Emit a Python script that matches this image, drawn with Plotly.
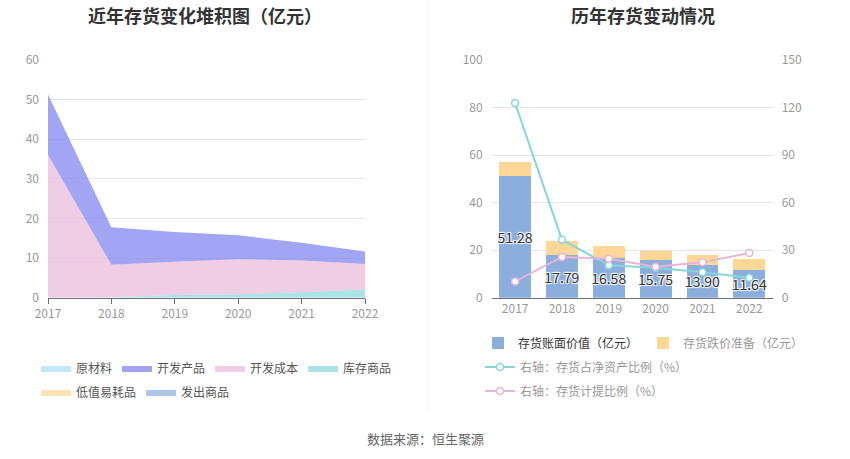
import plotly.graph_objects as go

W, H = 850, 459
FONT = "Noto Sans CJK SC"

years = ["2017", "2018", "2019", "2020", "2021", "2022"]
year_nums = [2017, 2018, 2019, 2020, 2021, 2022]

# Left chart: stacked inventory composition (亿元)
raw_material = [0, 0, 0, 0, 0, 0]              # 原材料
dev_products = [15.28, 9.49, 7.48, 6.05, 4.50, 3.14]  # 开发产品
dev_cost = [36.00, 8.20, 8.40, 8.80, 8.05, 6.40]      # 开发成本
stock_goods = [0, 0.10, 0.70, 0.90, 1.35, 2.10]       # 库存商品
low_value = [0, 0, 0, 0, 0, 0]                 # 低值易耗品
shipped_goods = [0, 0, 0, 0, 0, 0]             # 发出商品

# Right chart
book_value = [51.28, 17.79, 16.58, 15.75, 13.90, 11.64]   # 存货账面价值（亿元）
impairment = [5.90, 6.06, 5.30, 3.77, 3.90, 4.64]         # 存货跌价准备（亿元）
net_asset_ratio = [122.8, 36.6, 20.4, 18.9, 16.0, 12.6]   # 存货占净资产比例（%）
provision_ratio = [10.3, 25.7, 24.6, 19.6, 22.3, 28.2]    # 存货计提比例（%）
book_labels = ["51.28", "17.79", "16.58", "15.75", "13.90", "11.64"]

def px_x(p):
    return p / W

def px_y(p):
    return 1 - p / H

fig = go.Figure()

area_defs = [
    ("库存商品", stock_goods, "#88d8d8", "rgba(136,216,216,0.7)", "legend", 4),
    ("开发成本", dev_cost, "#e8b8d8", "rgba(232,184,216,0.7)", "legend", 3),
    ("开发产品", dev_products, "#7b7ff0", "rgba(123,127,240,0.7)", "legend", 2),
    ("原材料", raw_material, "#a8e0f8", "rgba(168,224,248,0.7)", "legend", 1),
    ("低值易耗品", low_value, "#fdd995", "rgba(253,217,149,0.7)", "legend2", 5),
    ("发出商品", shipped_goods, "#8caedc", "rgba(140,174,220,0.7)", "legend2", 6),
]
for name, vals, col, fcol, leg, rank in area_defs:
    fig.add_trace(go.Scatter(
        x=year_nums, y=vals, name=name, mode="lines", stackgroup="one",
        line=dict(width=0, color=col), fillcolor=fcol,
        xaxis="x", yaxis="y", legend=leg, legendrank=rank,
    ))

fig.add_trace(go.Bar(
    x=years, y=book_value, name="<span style='color:#333'>存货账面价值（亿元）</span>",
    marker=dict(color="#8caedc", line=dict(width=0)),
    text=book_labels, textposition="inside", insidetextanchor="middle",
    textangle=0, constraintext="none",
    textfont=dict(size=14, color="#333", family=FONT,
                  shadow="1px 1px 1px #fff, -1px -1px 1px #fff, 1px -1px 1px #fff, -1px 1px 1px #fff"),
    xaxis="x2", yaxis="y2", legend="legend3",
))
fig.add_trace(go.Bar(
    x=years, y=impairment, name="存货跌价准备（亿元）",
    marker=dict(color="#fed797", line=dict(width=0)),
    xaxis="x2", yaxis="y2", legend="legend3", hoverinfo="skip",
))
fig.add_trace(go.Scatter(
    x=years, y=net_asset_ratio, name="右轴：存货占净资产比例（%）",
    mode="lines+markers", line=dict(color="#86d6d6", width=2),
    marker=dict(symbol="circle", size=7, color="white", line=dict(color="#86d6d6", width=1.5)),
    xaxis="x2", yaxis="y3", legend="legend4",
))
fig.add_trace(go.Scatter(
    x=years, y=provision_ratio, name="右轴：存货计提比例（%）",
    mode="lines+markers", line=dict(color="#e8b4da", width=2),
    marker=dict(symbol="circle", size=7, color="white", line=dict(color="#e8b4da", width=1.5)),
    xaxis="x2", yaxis="y3", legend="legend5",
))

ydom = [px_y(297.7), px_y(60)]
tickfont = dict(family=FONT, size=12, color="#999")
grid = "#e0e6f1"

leg_common = dict(orientation="h", xanchor="left", yanchor="middle",
                  font=dict(family=FONT, size=12, color="#555"),
                  bgcolor="rgba(0,0,0,0)", itemwidth=30, traceorder="normal")
leg_gray = {**leg_common, "font": dict(family=FONT, size=12, color="#999")}

fig.update_layout(
    width=W, height=H, margin=dict(l=0, r=0, t=0, b=0, autoexpand=False),
    paper_bgcolor="white", plot_bgcolor="white",
    font=dict(family=FONT, color="#333"),
    barmode="stack", bargap=0.32,
    xaxis=dict(domain=[px_x(48), px_x(365)], range=[2017, 2022],
               tickvals=year_nums, ticktext=years, showgrid=False,
               showline=True, linecolor="#6e7079", linewidth=1,
               ticks="outside", ticklen=5, tickcolor="#6e7079",
               tickfont=tickfont, zeroline=False, automargin=False),
    yaxis=dict(domain=ydom, range=[0, 60], dtick=10, showgrid=True, gridcolor=grid,
               zeroline=False, showline=False, tickfont=tickfont,
               ticklabelstandoff=8, anchor="x", automargin=False),
    xaxis2=dict(domain=[px_x(491.7), px_x(772.7)], anchor="y2", showgrid=False,
                showline=True, linecolor="#6e7079", linewidth=1, ticks="",
                tickfont=tickfont, type="category", automargin=False),
    yaxis2=dict(domain=ydom, range=[0, 100], dtick=20, showgrid=True, gridcolor=grid,
                zeroline=False, showline=False, tickfont=tickfont,
                ticklabelstandoff=8, anchor="x2", automargin=False),
    yaxis3=dict(range=[0, 150], dtick=30, overlaying="y2", side="right",
                showgrid=False, zeroline=False, showline=False, tickfont=tickfont,
                ticklabelstandoff=8, anchor="x2", automargin=False),
    legend=dict(x=px_x(36), y=px_y(368), **leg_common),
    legend2=dict(x=px_x(36), y=px_y(392), **leg_common),
    legend3=dict(x=px_x(478), y=px_y(343), **leg_gray),
    legend4=dict(x=px_x(480), y=px_y(367), **leg_gray),
    legend5=dict(x=px_x(480), y=px_y(391), **leg_gray),
    shapes=[dict(type="line", xref="paper", yref="paper",
                 x0=px_x(428), x1=px_x(428), y0=px_y(0), y1=px_y(410),
                 line=dict(color="#eeeeee", width=1))],
    annotations=[
        dict(text="<b>近年存货变化堆积图（亿元）</b>", x=px_x(205), y=px_y(15),
             xref="paper", yref="paper", showarrow=False, xanchor="center", yanchor="middle",
             font=dict(family=FONT, size=18, color="#333")),
        dict(text="<b>历年存货变动情况</b>", x=px_x(643), y=px_y(15),
             xref="paper", yref="paper", showarrow=False, xanchor="center", yanchor="middle",
             font=dict(family=FONT, size=18, color="#333")),
        dict(text="数据来源：恒生聚源", x=px_x(425), y=px_y(438),
             xref="paper", yref="paper", showarrow=False, xanchor="center", yanchor="middle",
             font=dict(family=FONT, size=13, color="#666")),
    ],
)

fig.write_html("out.html", config={"displayModeBar": False},
               post_script="document.body.style.margin='0';document.body.style.overflow='hidden';")
